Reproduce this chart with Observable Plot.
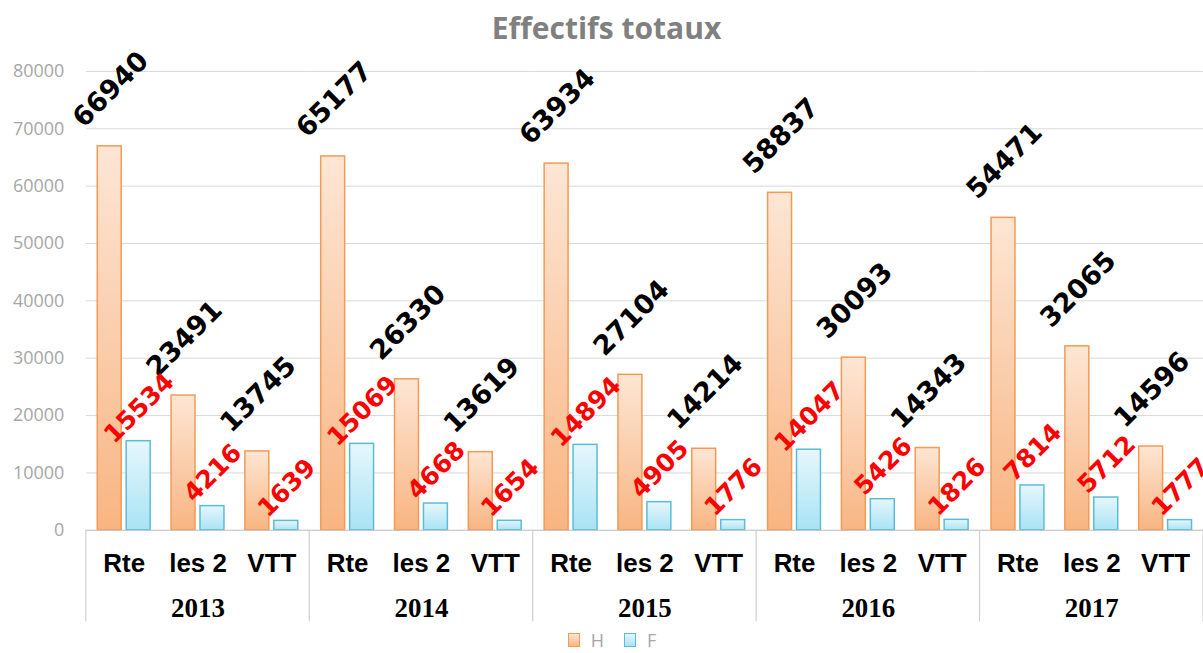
<!DOCTYPE html>
<html>
<head>
<meta charset="utf-8">
<script src="https://cdn.jsdelivr.net/npm/d3@7"></script>
<script src="https://cdn.jsdelivr.net/npm/@observablehq/plot@0.6"></script>
<style>
  html, body { margin: 0; padding: 0; background: #fff; overflow: hidden; width: 1203px; height: 653px; }
  #title { height: 31px; padding-top: 13px; line-height: 30px; text-align: center; font-family: "Open Sans", sans-serif; font-weight: 700; font-size: 30px; color: #808080; width: 1213px; }
  #chart { height: 584px; }
  #chart svg { display: block; }
  #legend { height: 20px; padding-top: 2px; display: flex; justify-content: center; align-items: center; font-family: "Open Sans", sans-serif; font-size: 18px; line-height: 20px; color: #a6a6a6; width: 1224px; }
  .sw { display: inline-block; width: 10px; height: 12px; margin-right: 11px; }
  .sw.h { border: 1.5px solid #f39a55; background: linear-gradient(#fde6d4, #f8b582); }
  .sw.f { border: 1.5px solid #5bbcd8; background: linear-gradient(#e6f7fc, #a9e3f4); }
  .lab { margin-right: 20px; }
</style>
</head>
<body>
<div id="title">Effectifs totaux</div>
<div id="chart"></div>
<div id="legend"><span class="sw h"></span><span class="lab">H</span><span class="sw f"></span><span>F</span></div>
<script>
const years = ["2013", "2014", "2015", "2016", "2017"];
const categories = ["Rte", "les 2", "VTT"];
// values in year order, each year: Rte, les 2, VTT
const hommes = [66940, 23491, 13745, 65177, 26330, 13619, 63934, 27104, 14214, 58837, 30093, 14343, 54471, 32065, 14596];
const femmes = [15534, 4216, 1639, 15069, 4668, 1654, 14894, 4905, 1776, 14047, 5426, 1826, 7814, 5712, 1777];
const yTicks = [0, 10000, 20000, 30000, 40000, 50000, 60000, 70000, 80000];

const toRows = (vals) => years.flatMap((yr, i) => categories.map((c, j) => ({year: yr, cat: c, value: vals[i * categories.length + j]})));
const rowsH = toRows(hommes);
const rowsF = toRows(femmes);

const labelFont = {fontWeight: "bold", fontFamily: "DejaVu Sans", rotate: -45, textAnchor: "middle", lineAnchor: "middle"};

const chart = Plot.plot({
  width: 1206,
  height: 584,
  marginLeft: 85,
  marginRight: 0,
  marginTop: 27,
  marginBottom: 97,
  style: {background: "transparent", overflow: "visible"},
  fx: {domain: years, padding: 0},
  x: {domain: categories, padding: 0},
  y: {domain: [0, 80000]},
  marks: [
    Plot.gridY(yTicks, {stroke: "#d9d9d9", strokeOpacity: 1}),
    Plot.axisY({ticks: yTicks, tickSize: 0, tickPadding: 22, tickFormat: d3.format("d"), fontSize: 18, fontFamily: "Open Sans", color: "#a6a6a6", label: null}),
    Plot.axisX({anchor: "bottom", tickSize: 0, tickPadding: 23, fontSize: 26, fontWeight: "bold", fontFamily: "Liberation Sans", color: "#000", label: null}),
    Plot.axisFx({anchor: "bottom", tickSize: 0, tickPadding: 68, fontSize: 27, fontWeight: "bold", fontFamily: "Liberation Serif", color: "#000", label: null}),
    Plot.barY(rowsH, {fx: "year", x: "cat", y: "value", insetLeft: 10.5, insetRight: 39.5, fill: "url(#gradH)", stroke: "#f39a55", strokeWidth: 1.5}),
    Plot.barY(rowsF, {fx: "year", x: "cat", y: "value", insetLeft: 39.5, insetRight: 10.5, fill: "url(#gradF)", stroke: "#5bbcd8", strokeWidth: 1.5}),
    Plot.ruleY([0], {stroke: "#c8c8c8"}),
    Plot.text(rowsH, {fx: "year", x: "cat", y: "value", text: (d) => String(d.value), dx: -13.5, dy: -57, fontSize: 27, fill: "#000", ...labelFont}),
    Plot.text(rowsF, {fx: "year", x: "cat", y: "value", text: (d) => String(d.value), dx: 15, dy: -33, fontSize: 25, fill: "#ff0000", ...labelFont})
  ]
});

const svg = d3.select(chart);
const defs = svg.insert("defs", ":first-child");
const grads = [["gradH", "#fde6d4", "#f8b582"], ["gradF", "#e6f7fc", "#a9e3f4"]];
for (const [id, c0, c1] of grads) {
  const g = defs.append("linearGradient").attr("id", id).attr("x1", 0).attr("y1", 0).attr("x2", 0).attr("y2", 1);
  g.append("stop").attr("offset", "0%").attr("stop-color", c0);
  g.append("stop").attr("offset", "100%").attr("stop-color", c1);
}

// category-group separators below the baseline (from the fx scale)
const fxs = chart.scale("fx");
const ys = chart.scale("y");
const y0 = ys.apply(0);
const edges = years.map((yr) => fxs.apply(yr)).concat([fxs.apply(years[years.length - 1]) + fxs.bandwidth]);
svg.append("g").selectAll("line").data(edges).join("line")
  .attr("x1", (d) => d).attr("x2", (d) => d)
  .attr("y1", y0).attr("y2", y0 + 92)
  .attr("stroke", "#d0d0d0").attr("stroke-width", 1.2);

document.getElementById("chart").appendChild(chart);
</script>
</body>
</html>
